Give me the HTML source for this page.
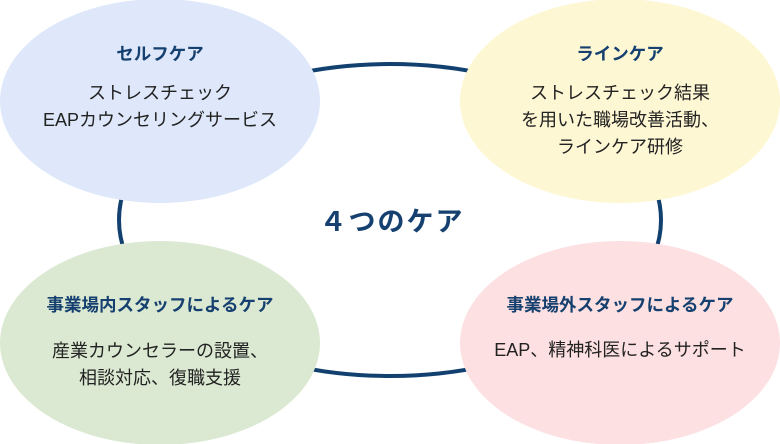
<!DOCTYPE html>
<html><head><meta charset="utf-8"><style>
body{margin:0;width:780px;height:444px;overflow:hidden;background:#fff}
svg{display:block}
text{font-family:"Liberation Sans","Noto Sans CJK JP",sans-serif}
.t{font-size:17.5px;font-weight:bold;fill:#15406f}
.b{font-size:18px;fill:#222}
</style></head><body>
<svg width="780" height="444" viewBox="0 0 780 444">
<ellipse cx="390" cy="220" rx="271" ry="156" fill="none" stroke="#12406f" stroke-width="4"/>
<ellipse cx="160" cy="101" rx="160" ry="102" fill="#dee8fa"/>
<ellipse cx="620" cy="101" rx="160" ry="102" fill="#fdf7d3"/>
<ellipse cx="160" cy="343" rx="160" ry="102" fill="#dbe9d2"/>
<ellipse cx="620" cy="343" rx="160" ry="102" fill="#fde0e1"/>
<text x="392" y="231" text-anchor="middle" style="font-size:27px;font-weight:bold;fill:#15406f;letter-spacing:2px">４つのケア</text>
<g text-anchor="middle">
<text class="t" x="160" y="60">セルフケア</text>
<text class="b" x="160" y="99">ストレスチェック</text>
<text class="b" x="160" y="126">EAPカウンセリングサービス</text>
<text class="t" x="620" y="60">ラインケア</text>
<text class="b" x="620" y="99">ストレスチェック結果</text>
<text class="b" x="620" y="126">を用いた職場改善活動、</text>
<text class="b" x="620" y="153">ラインケア研修</text>
<text class="t" x="160" y="311">事業場内スタッフによるケア</text>
<text class="b" x="160" y="357">産業カウンセラーの設置、</text>
<text class="b" x="160" y="384">相談対応、復職支援</text>
<text class="t" x="620" y="311">事業場外スタッフによるケア</text>
<text class="b" x="620" y="356">EAP、精神科医によるサポート</text>
</g>
</svg>
</body></html>
